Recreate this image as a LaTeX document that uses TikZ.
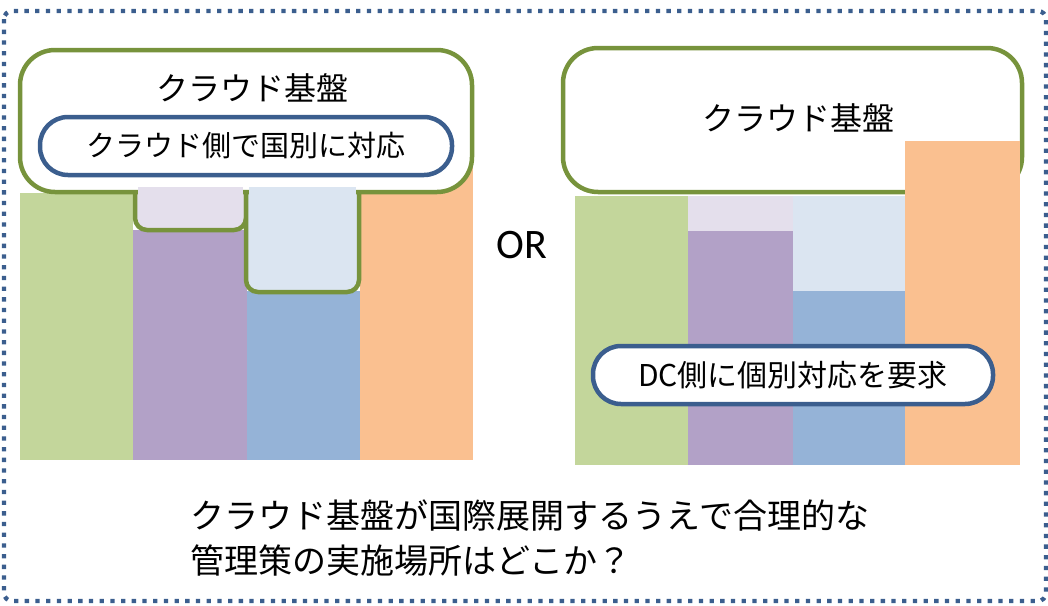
\documentclass[tikz,border=0pt]{standalone}
\usepackage{fontspec}
\setmainfont{Noto Sans CJK JP}
\newfontfamily\orfont{Carlito}
\definecolor{cloudgreen}{HTML}{77933C}
\definecolor{pillblue}{HTML}{3B5E8E}
\definecolor{bargreen}{HTML}{C3D69B}
\definecolor{barpurple}{HTML}{B2A1C7}
\definecolor{barlpurple}{HTML}{E4DFEC}
\definecolor{barblue}{HTML}{95B3D7}
\definecolor{barlblue}{HTML}{DBE5F1}
\definecolor{barorange}{HTML}{FAC090}
\begin{document}
\begin{tikzpicture}[x=1pt,y=-1pt,
        cloudline/.style={draw=cloudgreen,line width=4.5pt},
        pill/.style={draw=pillblue,line width=4.5pt,fill=white,rounded corners=28pt,
          minimum height=58pt,inner sep=0pt,font=\fontsize{29}{33}\selectfont},
        title/.style={inner sep=0pt,font=\fontsize{32}{36}\selectfont}]
        \useasboundingbox (0,0) rectangle (1048,605);
        \draw[pillblue,line width=4.3pt,dash pattern=on 4.3pt off 6.4pt,rounded corners=8pt]
          (4,11) rectangle (1046,601);
        \fill[bargreen]  (20,193)  rectangle (133,460);
        \fill[barpurple] (133,230) rectangle (247,460);
        \fill[barblue]   (247,291) rectangle (360,460);
        \fill[barorange] (360,140) rectangle (473,460);
        \draw[cloudline,fill=barlpurple,rounded corners=12pt] (135,150) rectangle (246,230);
        \draw[cloudline,fill=barlblue,rounded corners=12pt] (246,150) rectangle (359,292);
        \draw[cloudline,fill=white,rounded corners=35pt] (20,50) rectangle (472,192);
        \fill[barlpurple] (138,187) rectangle (243,197);
        \fill[barlblue]   (249,187) rectangle (356,197);
        \node[title] at (252,88) (baseL) {クラウド基盤};
        \node[pill,minimum width=412pt] at (246,146) (sideL) {クラウド側で国別に対応};
        \node[inner sep=0pt,font=\orfont\fontsize{42}{46}\selectfont] at (522,245) (orText) {OR};
        \draw[cloudline,fill=white,rounded corners=35pt] (563,48) rectangle (1022,192);
        \node[title] at (798,118) (baseR) {クラウド基盤};
        \fill[bargreen]   (575,196) rectangle (688,465);
        \fill[barlpurple] (688,196) rectangle (793,231);
        \fill[barpurple]  (688,231) rectangle (793,465);
        \fill[barlblue]   (793,196) rectangle (905,291);
        \fill[barblue]    (793,291) rectangle (905,465);
        \fill[barorange]  (905,141) rectangle (1020,465);
        \node[pill,minimum width=400pt,font=\fontsize{30}{34}\selectfont] at (793,375) (dcR) {DC側に個別対応を要求};
        \node[inner sep=0pt,anchor=west,align=left,font=\fontsize{34}{45}\selectfont] at (190,538) (question)
          {クラウド基盤が国際展開するうえで合理的な\\管理策の実施場所はどこか？};
      \end{tikzpicture}
\end{document}
